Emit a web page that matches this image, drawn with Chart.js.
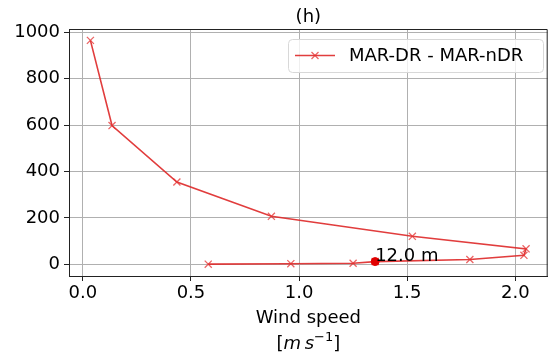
<!DOCTYPE html>
<html><head><meta charset="utf-8">
<script src="https://cdn.jsdelivr.net/npm/chart.js@4"></script>
<style>html,body{margin:0;padding:0;background:#fff}#wrap{width:554px;height:358px}</style>
</head><body><div id="wrap"><canvas id="c" width="554" height="358"></canvas></div>
<script>
const windSpeed = [0.035, 0.135, 0.435, 0.872, 1.524, 2.05, 2.04, 1.79, 1.352, 1.25, 0.962, 0.58];
const heights   = [965, 598, 355, 207, 121, 67, 39, 21, 12, 5, 3, 1];
const seriesName = 'MAR-DR - MAR-nDR';
const markX = [1.352];
const markY = [12];
const markLabel = ['12.0 m'];
const xTicks = [0.0, 0.5, 1.0, 1.5, 2.0];
const yTicks = [0, 200, 400, 600, 800, 1000];
const titleText = '(h)';

const FONT = "'DejaVu Sans', sans-serif";
const lineColor = 'rgba(222,40,40,0.9)';
const markerColor = 'rgba(228,50,50,0.75)';

const overlay = {
  id: 'overlay',
  afterDraw(chart) {
    const {ctx, chartArea: a, scales: {x, y}} = chart;
    ctx.save();
    ctx.strokeStyle = '#222'; ctx.lineWidth = 1;
    ctx.beginPath();
    ctx.moveTo(a.left, a.top + 0.5); ctx.lineTo(a.right - 0.5, a.top + 0.5); ctx.lineTo(a.right - 0.5, a.bottom);
    ctx.stroke();
    ctx.fillStyle = '#000';
    ctx.font = '18px ' + FONT;
    ctx.textAlign = 'center'; ctx.textBaseline = 'alphabetic';
    ctx.fillText(titleText, (a.left + a.right) / 2, 22);
    ctx.fillText('Wind speed', (a.left + a.right) / 2, 323);
    const cx = (a.left + a.right) / 2;
    const parts = [
      {t: '[', f: '18px ' + FONT, dy: 0},
      {t: 'm', f: 'italic 18px ' + FONT, dy: 0},
      {t: '\u2009', f: '18px ' + FONT, dy: 0},
      {t: 's', f: 'italic 18px ' + FONT, dy: 0},
      {t: '\u22121', f: '13px ' + FONT, dy: -8},
      {t: ']', f: '18px ' + FONT, dy: 0}
    ];
    let total = 0;
    parts.forEach(p => { ctx.font = p.f; p.w = ctx.measureText(p.t).width; total += p.w; });
    let px = cx - total / 2;
    ctx.textAlign = 'left';
    parts.forEach(p => { ctx.font = p.f; ctx.fillText(p.t, px, 349 + p.dy); px += p.w; });
    ctx.font = '18px ' + FONT;
    ctx.textAlign = 'left';
    for (let i = 0; i < markX.length; i++) {
      ctx.fillText(markLabel[i], x.getPixelForValue(markX[i]), y.getPixelForValue(markY[i]) - 1);
    }
    const lx = 288, ly = 39, lw = 255, lh = 33;
    ctx.fillStyle = 'rgba(255,255,255,0.8)';
    ctx.strokeStyle = '#d8d8d8'; ctx.lineWidth = 1;
    ctx.beginPath();
    if (ctx.roundRect) ctx.roundRect(lx + 0.5, ly + 0.5, lw, lh, 4); else ctx.rect(lx + 0.5, ly + 0.5, lw, lh);
    ctx.fill(); ctx.stroke();
    ctx.strokeStyle = lineColor; ctx.lineWidth = 1.6;
    ctx.beginPath(); ctx.moveTo(295, 55.5); ctx.lineTo(335, 55.5); ctx.stroke();
    ctx.strokeStyle = markerColor; ctx.lineWidth = 1.3;
    ctx.beginPath(); ctx.moveTo(311.5, 52); ctx.lineTo(318.5, 59); ctx.moveTo(318.5, 52); ctx.lineTo(311.5, 59); ctx.stroke();
    ctx.fillStyle = '#000';
    ctx.font = '18px ' + FONT;
    ctx.textBaseline = 'middle';
    ctx.fillText(seriesName, 349, 56);
    ctx.restore();
  }
};

new Chart(document.getElementById('c'), {
  type: 'scatter',
  data: {
    datasets: [
      {
        label: seriesName,
        data: windSpeed.map((v, i) => ({x: v, y: heights[i]})),
        showLine: true,
        borderColor: lineColor,
        borderWidth: 1.6,
        pointStyle: 'crossRot',
        pointRadius: 5,
        pointBorderColor: markerColor,
        pointBorderWidth: 1.3,
        pointBackgroundColor: markerColor,
        tension: 0,
        order: 2
      },
      {
        label: 'mark',
        data: markX.map((v, i) => ({x: v, y: markY[i]})),
        showLine: false,
        pointStyle: 'circle',
        pointRadius: 4,
        pointBackgroundColor: '#e00000',
        pointBorderColor: '#e00000',
        order: 1
      }
    ]
  },
  options: {
    responsive: false,
    animation: false,
    devicePixelRatio: 1,
    layout: {padding: {top: 29, right: 3, left: 0, bottom: 0}},
    plugins: {legend: {display: false}, tooltip: {enabled: false}, title: {display: false}},
    scales: {
      x: {
        type: 'linear', min: -0.064, max: 2.15,
        afterBuildTicks: s => { s.ticks = xTicks.map(v => ({value: v})); },
        afterFit: s => { s.height = 82; },
        ticks: {color: '#000', font: {family: FONT, size: 18}, padding: 2,
                callback: v => Number(v).toFixed(1), maxRotation: 0, autoSkip: false},
        grid: {color: '#b0b0b0', lineWidth: 1, tickLength: 5, tickColor: '#222', drawTicks: true},
        border: {color: '#222', width: 1}
      },
      y: {
        type: 'linear', min: -50, max: 1014,
        afterBuildTicks: s => { s.ticks = yTicks.map(v => ({value: v})); },
        afterFit: s => { s.width = 69; },
        ticks: {color: '#000', font: {family: FONT, size: 18}, padding: 4, autoSkip: false,
                callback: v => String(v)},
        grid: {color: '#b0b0b0', lineWidth: 1, tickLength: 5, tickColor: '#222', drawTicks: true},
        border: {color: '#222', width: 1}
      }
    }
  },
  plugins: [overlay]
});
</script>
</body></html>
